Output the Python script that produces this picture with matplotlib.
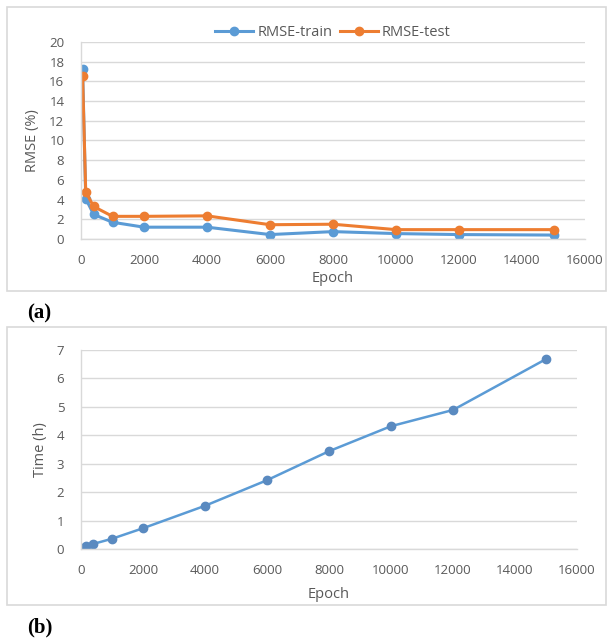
import matplotlib
matplotlib.use("Agg")
import matplotlib.pyplot as plt
from matplotlib.patches import Rectangle

# data
epochs = [50, 150, 400, 1000, 2000, 4000, 6000, 8000, 10000, 12000, 15000]
rmse_train = [17.3, 4.1, 2.5, 1.7, 1.2, 1.2, 0.45, 0.75, 0.55, 0.45, 0.4]
rmse_test = [16.5, 4.8, 3.3, 2.3, 2.3, 2.35, 1.45, 1.5, 0.95, 0.95, 0.95]
time_h = [0.05, 0.1, 0.18, 0.36, 0.73, 1.52, 2.42, 3.44, 4.32, 4.89, 6.68]

x_ticks = list(range(0, 16001, 2000))
rmse_ticks = list(range(0, 21, 2))
time_ticks = list(range(0, 8))

BLUE = "#5B9BD5"
ORANGE = "#ED7D31"
GRID = "#D9D9D9"
TXT = "#595959"

plt.rcParams['font.family'] = ['Open Sans', 'DejaVu Sans']

W, H = 613, 641
fig = plt.figure(figsize=(W / 100, H / 100), dpi=100)


def fbox(x0, y0, x1, y1):
    # pixel box (top-left origin) -> figure fraction rect
    return [x0 / W, 1 - y1 / H, (x1 - x0) / W, (y1 - y0) / H]


def style(ax, yticks):
    ax.set_xlim(0, 16000)
    ax.set_xticks(x_ticks)
    ax.set_ylim(yticks[0], yticks[-1])
    ax.set_yticks(yticks)
    ax.patch.set_alpha(0)
    ax.grid(axis="y", color=GRID, linewidth=1)
    ax.set_axisbelow(True)
    for s in ["top", "right"]:
        ax.spines[s].set_visible(False)
    for s in ["left", "bottom"]:
        ax.spines[s].set_color(GRID)
        ax.spines[s].set_linewidth(1)
    ax.tick_params(length=0, labelsize=9.5, labelcolor=TXT)
    ax.tick_params(axis="y", pad=12)
    ax.tick_params(axis="x", pad=11)


# outer chart frames
for box in [(7, 7, 606, 291), (7, 327, 606, 605)]:
    r = fbox(*box)
    fig.patches.append(Rectangle((r[0], r[1]), r[2], r[3], transform=fig.transFigure,
                                 facecolor="white", edgecolor="#D9D9D9", linewidth=1.2,
                                 zorder=-1))

# (a) RMSE vs epoch
ax1 = fig.add_axes(fbox(81, 42, 585, 239))
style(ax1, rmse_ticks)
ax1.plot(epochs, rmse_train, color=BLUE, lw=2.2, marker="o", ms=6, label="RMSE-train")
ax1.plot(epochs, rmse_test, color=ORANGE, lw=2.2, marker="o", ms=6, label="RMSE-test")
ax1.set_xlabel("Epoch", fontsize=10.5, color=TXT, labelpad=3)
ax1.set_ylabel("RMSE (%)", fontsize=10.5, color=TXT)
ax1.yaxis.set_label_coords(-0.081, 0.5)
ax1.legend(loc="center", bbox_to_anchor=(0.5, 1.05), ncol=2, frameon=False,
           fontsize=10.5, labelcolor=TXT, handlelength=2.6, columnspacing=0.5,
           handletextpad=0.3)

# (b) training time vs epoch
ax2 = fig.add_axes(fbox(81, 350, 577, 549))
style(ax2, time_ticks)
ax2.plot(epochs, time_h, color=BLUE, lw=1.8, marker="o", ms=6,
         markerfacecolor="#5A8AC0", markeredgecolor="#5A8AC0")
ax2.set_xlabel("Epoch", fontsize=10.5, color=TXT, labelpad=7)
ax2.set_ylabel("Time (h)", fontsize=10.5, color=TXT)
ax2.yaxis.set_label_coords(-0.067, 0.5)

fig.text(27 / W, 1 - 313 / H, "(a)", family="Liberation Serif", fontweight="bold",
         fontsize=15, va="center", ha="left")
fig.text(27 / W, 1 - 627 / H, "(b)", family="Liberation Serif", fontweight="bold",
         fontsize=15, va="center", ha="left")

fig.savefig("out.png", dpi=100)
